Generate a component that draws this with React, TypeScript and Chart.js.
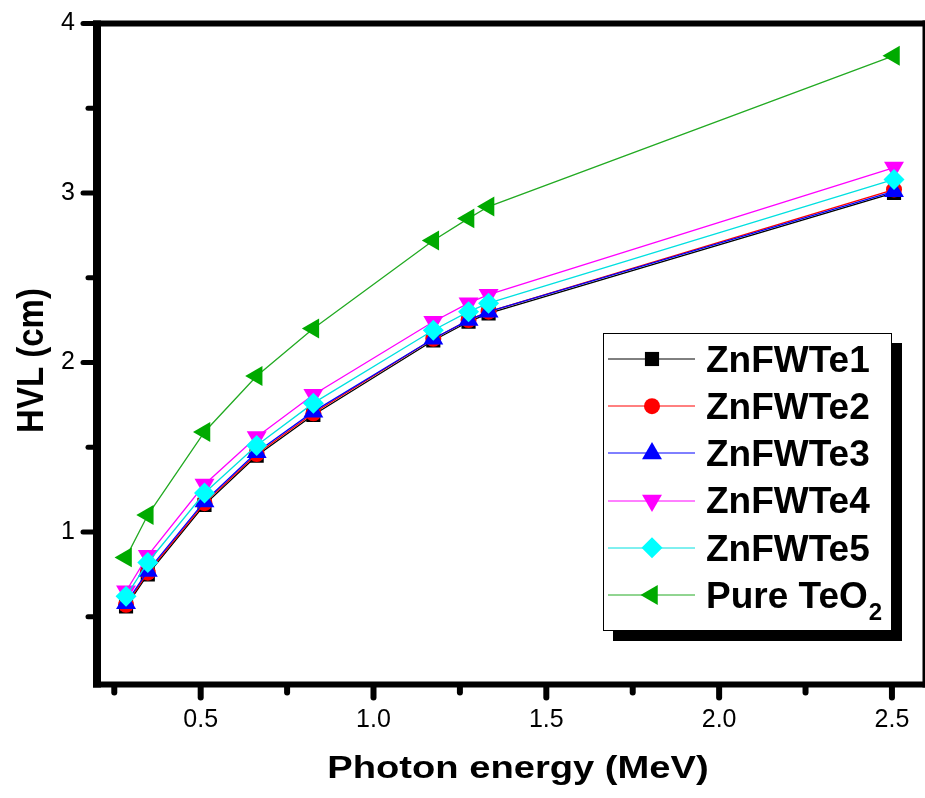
import { useEffect, useRef } from 'react';
import { Chart, registerables } from 'chart.js';
import { drawPoint } from 'chart.js/helpers';

Chart.register(...registerables);

// ---- data ----
const energies = [0.284, 0.347, 0.511, 0.662, 0.826, 1.173, 1.275, 1.333, 2.506];
const hvlZnFWTe1 = [0.56, 0.75, 1.16, 1.45, 1.69, 2.13, 2.24, 2.29, 3.0];
const hvlZnFWTe2 = [0.57, 0.76, 1.17, 1.46, 1.7, 2.14, 2.25, 2.3, 3.02];
const hvlZnFWTe3 = [0.58, 0.77, 1.18, 1.47, 1.71, 2.14, 2.25, 2.3, 3.01];
const hvlZnFWTe4 = [0.65, 0.86, 1.28, 1.56, 1.81, 2.24, 2.35, 2.4, 3.15];
const hvlZnFWTe5 = [0.62, 0.82, 1.23, 1.51, 1.76, 2.19, 2.3, 2.35, 3.08];
const hvlPureTeO2 = [0.85, 1.1, 1.59, 1.92, 2.2, 2.72, 2.85, 2.92, 3.81];

const seriesNames = ['ZnFWTe1', 'ZnFWTe2', 'ZnFWTe3', 'ZnFWTe4', 'ZnFWTe5', 'Pure TeO'];
const seriesSubscripts = ['', '', '', '', '', '2'];
const seriesValues = [hvlZnFWTe1, hvlZnFWTe2, hvlZnFWTe3, hvlZnFWTe4, hvlZnFWTe5, hvlPureTeO2];

const xMajorTicks = [0.5, 1.0, 1.5, 2.0, 2.5];
const xMinorTicks = [0.25, 0.75, 1.25, 1.75, 2.25];
const yMajorTicks = [1, 2, 3, 4];
const yMinorTicks = [0.5, 1.5, 2.5, 3.5];

const xTitle = 'Photon energy (MeV)';
const yTitle = 'HVL (cm)';

// ---- styles ----
const markerColors = ['#000000', '#ff0000', '#0000ff', '#ff00ff', '#00ffff', '#00aa00'];
const lineColors = ['#000000', '#ff0000', '#0000ff', '#ff00ff', '#00e0e0', '#22aa22'];
const markerStyles = ['rect', 'circle', 'triangle', 'triangle', 'rectRot', 'triangle'];
const markerRotations = [0, 0, 0, 180, 0, 270];
const markerRadii = [10, 8, 11.5, 11.5, 10.5, 11.5];

const FONT = '"Liberation Sans", Arial, Helvetica, sans-serif';

const framePlugin = {
  id: 'frameAndTitles',
  afterDraw(chart: any) {
    const { ctx, chartArea, scales } = chart;
    const { left, right, top, bottom } = chartArea;
    ctx.save();
    ctx.fillStyle = '#000';
    ctx.fillRect(left - 4, top - 3, 8, bottom - top + 6);
    ctx.fillRect(right - 4, top - 3, 8, bottom - top + 6);
    ctx.fillRect(left - 4, top - 3, right - left + 8, 6);
    ctx.fillRect(left - 4, bottom - 3, right - left + 8, 6);

    ctx.strokeStyle = '#000';
    ctx.lineCap = 'round';
    const line = (x1: number, y1: number, x2: number, y2: number) => {
      ctx.beginPath();
      ctx.moveTo(x1, y1);
      ctx.lineTo(x2, y2);
      ctx.stroke();
    };
    ctx.lineWidth = 6;
    xMajorTicks.forEach((v) => {
      const px = scales.x.getPixelForValue(v);
      line(px, bottom + 3, px, bottom + 13);
    });
    xMinorTicks.forEach((v) => {
      const px = scales.x.getPixelForValue(v);
      line(px, bottom + 3, px, bottom + 8);
    });
    ctx.lineWidth = 5;
    yMajorTicks.forEach((v) => {
      const py = scales.y.getPixelForValue(v);
      line(left - 4, py, left - 14, py);
    });
    yMinorTicks.forEach((v) => {
      const py = scales.y.getPixelForValue(v);
      line(left - 4, py, left - 9, py);
    });

    // axis titles
    ctx.fillStyle = '#000';
    ctx.textAlign = 'center';
    ctx.textBaseline = 'alphabetic';
    ctx.save();
    ctx.font = `bold 31px ${FONT}`;
    ctx.translate(518, 778);
    ctx.scale(1.23, 1);
    ctx.fillText(xTitle, 0, 0);
    ctx.restore();
    ctx.save();
    ctx.font = `bold 33px ${FONT}`;
    ctx.translate(43, 360.5);
    ctx.rotate(-Math.PI / 2);
    ctx.scale(1, 1.1);
    ctx.fillText(yTitle, 0, 0);
    ctx.restore();
    ctx.restore();
  },
};

const legendPlugin = {
  id: 'boxLegend',
  afterDraw(chart: any) {
    const { ctx } = chart;
    const bx = 603, by = 333, bw = 289, bh = 298, shadow = 10;
    ctx.save();
    ctx.fillStyle = '#000';
    ctx.fillRect(bx + shadow, by + shadow, bw, bh);
    ctx.fillStyle = '#fff';
    ctx.fillRect(bx, by, bw, bh);
    ctx.strokeStyle = '#000';
    ctx.lineWidth = 1;
    ctx.strokeRect(bx + 0.5, by + 0.5, bw - 1, bh - 1);

    const rowStart = 359;
    const rowStep = 47.2;
    seriesNames.forEach((name, i) => {
      const ry = rowStart + i * rowStep;
      ctx.strokeStyle = lineColors[i];
      ctx.lineWidth = 1;
      ctx.beginPath();
      ctx.moveTo(608, Math.round(ry));
      ctx.lineTo(695, Math.round(ry));
      ctx.stroke();
      ctx.fillStyle = markerColors[i];
      ctx.strokeStyle = markerColors[i];
      drawPoint(ctx, {
        pointStyle: markerStyles[i] as any,
        rotation: markerRotations[i],
        radius: markerRadii[i],
        borderWidth: 0,
      } as any, 652, ry);
      ctx.fillStyle = '#000';
      ctx.textAlign = 'left';
      ctx.textBaseline = 'alphabetic';
      ctx.font = `bold 37px ${FONT}`;
      ctx.fillText(name, 706, ry + 12.7);
      if (seriesSubscripts[i]) {
        const w = ctx.measureText(name).width;
        ctx.font = `bold 24px ${FONT}`;
        ctx.fillText(seriesSubscripts[i], 706 + w + 1, ry + 25);
      }
    });
    ctx.restore();
  },
};

const CANVAS_W = 938;
const CANVAS_H = 798;

export default function App() {
  const canvasRef = useRef<HTMLCanvasElement | null>(null);

  useEffect(() => {
    if (!canvasRef.current) return;
    const datasets = seriesNames.map((name, i) => ({
      label: name + seriesSubscripts[i],
      data: energies.map((x, j) => ({ x, y: seriesValues[i][j] })),
      showLine: true,
      borderColor: lineColors[i],
      borderWidth: 1.3,
      backgroundColor: markerColors[i],
      pointBackgroundColor: markerColors[i],
      pointBorderColor: markerColors[i],
      pointBorderWidth: 0,
      pointStyle: markerStyles[i],
      pointRotation: markerRotations[i],
      pointRadius: markerRadii[i],
      pointHoverRadius: markerRadii[i],
      order: seriesNames.length - i,
      tension: 0,
    }));

    const chart = new Chart(canvasRef.current, {
      type: 'scatter',
      data: { datasets },
      options: {
        animation: false,
        responsive: false,
        devicePixelRatio: 1,
        layout: { padding: { left: 0, top: 23.5, right: 8.4, bottom: 0 } },
        plugins: { legend: { display: false }, tooltip: { enabled: false }, title: { display: false } },
        scales: {
          x: {
            type: 'linear',
            min: 0.2,
            max: 2.6,
            border: { display: false },
            grid: { display: false, drawTicks: false },
            afterBuildTicks: (s: any) => {
              s.ticks = xMajorTicks.map((v) => ({ value: v }));
            },
            afterFit: (s: any) => {
              s.height = 113.5;
              s.paddingLeft = 0;
              s.paddingRight = 0;
              s.paddingTop = 0;
              s.paddingBottom = 0;
            },
            ticks: {
              padding: 21,
              color: '#000',
              font: { family: FONT, size: 25 },
              maxRotation: 0,
              autoSkip: false,
              callback: (v: any) => Number(v).toFixed(1),
            },
          },
          y: {
            type: 'linear',
            min: 0.1,
            max: 4,
            border: { display: false },
            grid: { display: false, drawTicks: false },
            afterBuildTicks: (s: any) => {
              s.ticks = yMajorTicks.map((v) => ({ value: v }));
            },
            afterFit: (s: any) => {
              s.width = 97;
              s.paddingLeft = 0;
              s.paddingRight = 0;
              s.paddingTop = 0;
              s.paddingBottom = 0;
            },
            ticks: {
              padding: 22,
              color: '#000',
              font: { family: FONT, size: 25 },
              autoSkip: false,
              callback: (v: any) => String(v),
            },
          },
        },
      },
      plugins: [framePlugin, legendPlugin],
    });
    return () => chart.destroy();
  }, []);

  return (
    <div style={{ position: 'fixed', left: 0, top: 0, width: 925, height: 798, overflow: 'hidden', background: '#fff' }}>
      <canvas ref={canvasRef} width={CANVAS_W} height={CANVAS_H} style={{ display: 'block', width: CANVAS_W, height: CANVAS_H }} />
    </div>
  );
}
